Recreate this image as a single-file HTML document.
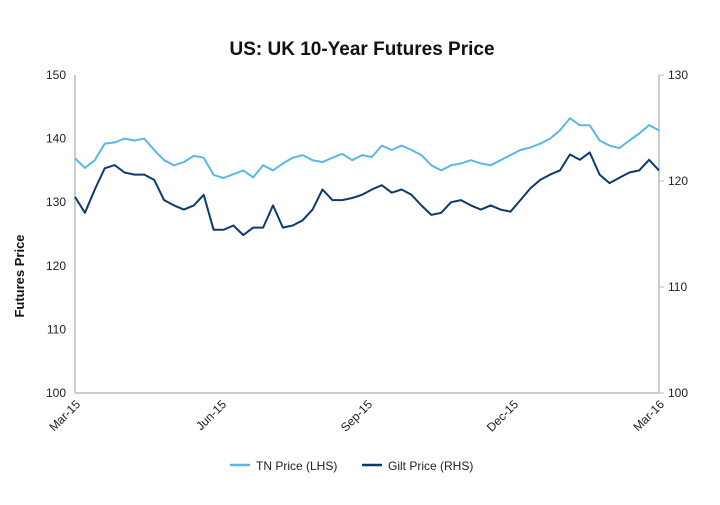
<!DOCTYPE html>
<html><head><meta charset="utf-8"><style>
body{margin:0;background:#fff;font-family:"Liberation Sans",sans-serif}
svg text{font-family:"Liberation Sans",sans-serif}
</style></head><body>
<svg id="chart" width="720" height="500" viewBox="0 0 720 500">
<text x="362" y="55" text-anchor="middle" font-size="19" font-weight="bold" fill="#111">US: UK 10-Year Futures Price</text>
<text transform="translate(24,276) rotate(-90)" text-anchor="middle" font-size="13" font-weight="bold" fill="#111">Futures Price</text>
<g id="axes"></g>
<g id="series"></g>
<g>
<line x1="230" y1="465" x2="250" y2="465" stroke="#5bb8e6" stroke-width="2.5"/>
<text x="256" y="470" font-size="12" fill="#222">TN Price (LHS)</text>
<line x1="362" y1="465" x2="382" y2="465" stroke="#0e3a6e" stroke-width="2.5"/>
<text x="388" y="470" font-size="12" fill="#222">Gilt Price (RHS)</text>
</g>
</svg>
<script>
const xLabels=["Mar-15","Jun-15","Sep-15","Dec-15","Mar-16"];
const leftTicks=[100,110,120,130,140,150];
const rightTicks=[100,110,120,130];
const tnValues=[136.9,135.4,136.6,139.2,139.4,140,139.7,140,138.2,136.6,135.8,136.3,137.3,137,134.3,133.8,134.4,135,133.9,135.8,135,136.1,137,137.4,136.6,136.3,137,137.6,136.6,137.4,137.1,138.9,138.2,138.9,138.2,137.4,135.8,135,135.8,136.1,136.6,136.1,135.8,136.6,137.4,138.2,138.6,139.2,140,141.3,143.2,142.1,142.1,139.7,138.9,138.5,139.7,140.8,142.1,141.3];
const giltValues=[118.5,117,119.2,121.2,121.5,120.8,120.6,120.6,120.1,118.2,117.7,117.3,117.7,118.7,115.4,115.4,115.8,114.9,115.6,115.6,117.7,115.6,115.8,116.3,117.3,119.2,118.2,118.2,118.4,118.7,119.2,119.6,118.9,119.2,118.7,117.7,116.8,117,118,118.2,117.7,117.3,117.7,117.3,117.1,118.2,119.3,120.1,120.6,121,122.5,122,122.7,120.6,119.8,120.3,120.8,121,122,121];
const X0=75,X1=659,Y0=75,Y1=393;
const yL=v=>Y1-(v-100)/50*(Y1-Y0);
const yR=v=>Y1-(v-100)/30*(Y1-Y0);
const xI=(i,n)=>X0+i*(X1-X0)/(n-1);
const NS="http://www.w3.org/2000/svg";
const axes=document.getElementById('axes'),ser=document.getElementById('series');
function mk(tag,at,parent){const e=document.createElementNS(NS,tag);for(const k in at)e.setAttribute(k,at[k]);parent.appendChild(e);return e;}
let e;
e=mk('line',{x1:X0,y1:Y0,x2:X0,y2:Y1,stroke:'#bbb','stroke-width':1.5},axes);


e=mk('line',{x1:X1,y1:Y0,x2:X1,y2:Y1,stroke:'#bbb','stroke-width':1.5},axes);


e=mk('line',{x1:X0,y1:Y1,x2:X1,y2:Y1,stroke:'#bbb','stroke-width':1.5},axes);


leftTicks.forEach(v=>{e=mk('text',{x:66,y:yL(v)+4,'text-anchor':'end','font-size':12,fill:'#222'},axes);e.textContent=v;

});
rightTicks.forEach(v=>{mk('line',{x1:X1,y1:yR(v),x2:X1+5,y2:yR(v),stroke:'#bbb'},axes);
e=mk('text',{x:668,y:yR(v)+4,'font-size':12,fill:'#222'},axes);e.textContent=v;

});
xLabels.forEach((l,i)=>{const x=xI(i,xLabels.length);
e=mk('text',{x:0,y:0,'text-anchor':'end','font-size':12,fill:'#222',transform:`translate(${x+6},${Y1+12}) rotate(-45)`},axes);e.textContent=l;

});
function line(vals,f,col,name){const d=vals.map((v,i)=>(i?'L':'M')+xI(i,vals.length).toFixed(1)+','+f(v).toFixed(1)).join('');
e=mk('path',{d:d,fill:'none',stroke:col,'stroke-width':2,'stroke-linejoin':'round'},ser);

}
line(tnValues,yL,'#5bb8e6','tn-price-line');
line(giltValues,yR,'#0e3a6e','gilt-price-line');
</script>
</body></html>
